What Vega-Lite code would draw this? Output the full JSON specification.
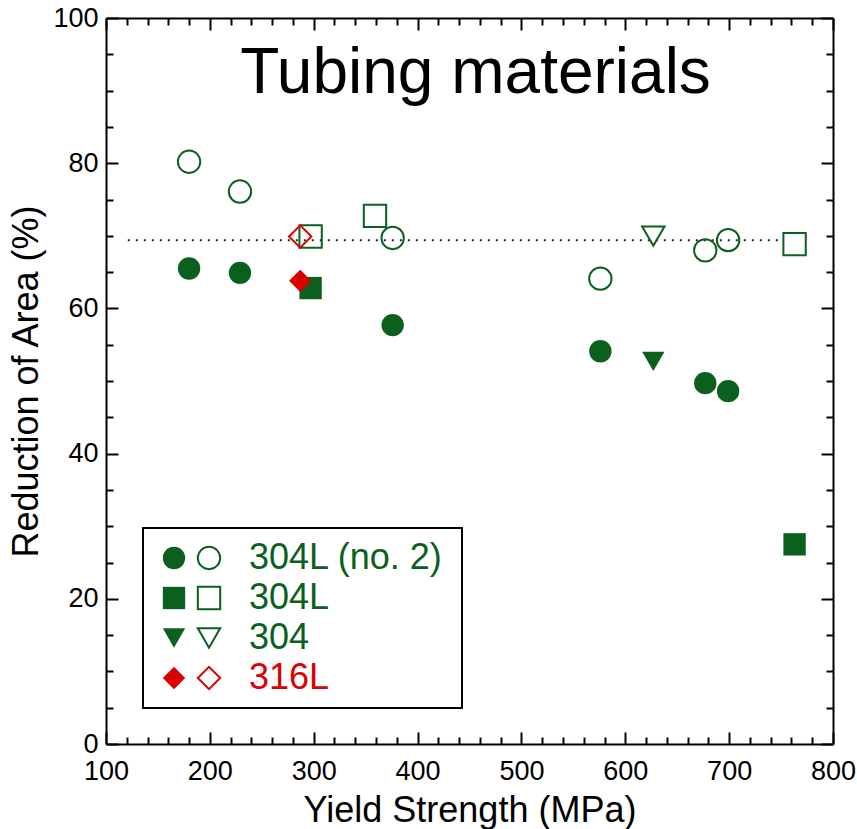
{
  "$schema": "https://vega.github.io/schema/vega-lite/v6.json",
  "width": 727,
  "height": 726,
  "autosize": {"type": "none"},
  "padding": {"left": 106, "top": 18, "right": 24, "bottom": 85},
  "background": "white",
  "config": {
    "view": {"stroke": null},
    "font": "Liberation Sans",
    "legend": {"strokeWidth": 2},
    "axis": {
      "grid": false,
      "domainColor": "black",
      "domainWidth": 2,
      "tickColor": "black",
      "tickWidth": 2,
      "labelColor": "black",
      "labelFont": "Liberation Sans",
      "labelFontSize": 27,
      "labelFlush": false,
      "labelOverlap": false,
      "labelBound": false,
      "titleColor": "black",
      "titleFont": "Liberation Sans",
      "titleFontWeight": "normal",
      "titleFontSize": 36
    }
  },
  "title": {
    "text": "Tubing materials",
    "font": "Liberation Sans",
    "fontSize": 64,
    "fontWeight": "normal",
    "color": "black",
    "anchor": "middle",
    "frame": "group",
    "orient": "top",
    "baseline": "alphabetic",
    "offset": -78,
    "dy": 75,
    "dx": 6
  },
  "datasets": {
    "points": [
      {"ys": 180, "ra": 65.5, "material": "304L (no. 2)", "kind": "filled"},
      {"ys": 229, "ra": 64.9, "material": "304L (no. 2)", "kind": "filled"},
      {"ys": 376, "ra": 57.7, "material": "304L (no. 2)", "kind": "filled"},
      {"ys": 576, "ra": 54.1, "material": "304L (no. 2)", "kind": "filled"},
      {"ys": 677, "ra": 49.7, "material": "304L (no. 2)", "kind": "filled"},
      {"ys": 699, "ra": 48.6, "material": "304L (no. 2)", "kind": "filled"},
      {"ys": 297, "ra": 62.8, "material": "304L", "kind": "filled"},
      {"ys": 763, "ra": 27.5, "material": "304L", "kind": "filled"},
      {"ys": 627, "ra": 52.7, "material": "304", "kind": "filled"},
      {"ys": 287, "ra": 63.8, "material": "316L", "kind": "filled"},
      {"ys": 180, "ra": 80.2, "material": "304L (no. 2)", "kind": "open"},
      {"ys": 229, "ra": 76.1, "material": "304L (no. 2)", "kind": "open"},
      {"ys": 376, "ra": 69.7, "material": "304L (no. 2)", "kind": "open"},
      {"ys": 576, "ra": 64.1, "material": "304L (no. 2)", "kind": "open"},
      {"ys": 677, "ra": 68.0, "material": "304L (no. 2)", "kind": "open"},
      {"ys": 699, "ra": 69.4, "material": "304L (no. 2)", "kind": "open"},
      {"ys": 297, "ra": 69.9, "material": "304L", "kind": "open"},
      {"ys": 359, "ra": 72.75, "material": "304L", "kind": "open"},
      {"ys": 763, "ra": 68.85, "material": "304L", "kind": "open"},
      {"ys": 627, "ra": 69.95, "material": "304", "kind": "open"},
      {"ys": 287, "ra": 69.9, "material": "316L", "kind": "open"}
    ],
    "ref": [{"xstart": 121, "xend": 748, "ra": 69.4}]
  },
  "layer": [
    {
      "data": {"name": "ref"},
      "mark": {"type": "rule", "strokeDash": [2, 6], "strokeWidth": 2, "color": "#222222"},
      "encoding": {
        "x": {
          "field": "xstart", "type": "quantitative",
          "scale": {"domain": [100, 800], "nice": false, "zero": false},
          "axis": {
            "orient": "top", "title": null, "labels": false,
            "values": [100, 200, 300, 400, 500, 600, 700, 800],
            "tickSize": -12
          }
        },
        "x2": {"field": "xend"},
        "y": {
          "field": "ra", "type": "quantitative",
          "scale": {"domain": [0, 100], "nice": false, "zero": false},
          "axis": {
            "orient": "right", "title": null, "labels": false,
            "values": [0, 20, 40, 60, 80, 100],
            "tickSize": -12
          }
        }
      }
    },
    {
      "data": {"name": "points"},
      "mark": {"type": "point", "opacity": 0, "size": 10},
      "encoding": {
        "x": {
          "field": "ys", "type": "quantitative",
          "scale": {"domain": [100, 800], "nice": false, "zero": false},
          "axis": {
            "orient": "top", "title": null, "labels": false, "domain": false,
            "values": [120,140,160,180,220,240,260,280,320,340,360,380,420,440,460,480,520,540,560,580,620,640,660,680,720,740,760,780],
            "tickSize": -7
          }
        },
        "y": {
          "field": "ra", "type": "quantitative",
          "scale": {"domain": [0, 100], "nice": false, "zero": false},
          "axis": {
            "orient": "right", "title": null, "labels": false, "domain": false,
            "values": [5,10,15,25,30,35,45,50,55,65,70,75,85,90,95],
            "tickSize": -7
          }
        }
      }
    },
    {
      "data": {"name": "points"},
      "transform": [{"filter": "datum.kind === 'open'"}],
      "mark": {"type": "point", "filled": false, "strokeWidth": 2, "size": 500, "opacity": 1},
      "encoding": {
        "x": {
          "field": "ys", "type": "quantitative",
          "scale": {"domain": [100, 800], "nice": false, "zero": false},
          "axis": {
            "orient": "bottom", "title": "Yield Strength (MPa)",
            "values": [100, 200, 300, 400, 500, 600, 700, 800],
            "tickSize": -12,
            "labelPadding": 26,
            "titlePadding": 9
          }
        },
        "y": {
          "field": "ra", "type": "quantitative",
          "scale": {"domain": [0, 100], "nice": false, "zero": false},
          "axis": {
            "orient": "left", "title": "Reduction of Area (%)",
            "values": [0, 20, 40, 60, 80, 100],
            "tickSize": -12,
            "labelPadding": 20,
            "titlePadding": 7
          }
        },
        "shape": {
          "field": "material", "type": "nominal",
          "scale": {"domain": ["304L (no. 2)", "304L", "304", "316L"], "range": ["circle", "square", "triangle-down", "diamond"]},
          "legend": {
            "orient": "none", "legendX": 37, "legendY": 510, "title": null,
            "symbolSize": 500, "symbolStrokeWidth": 2, "symbolOffset": 36,
            "labelFont": "Liberation Sans", "labelFontSize": 36, "labelOffset": 28, "labelOpacity": 0, "labelLimit": 400,
            "rowPadding": 4, "padding": 12, "strokeColor": "black"
          }
        },
        "stroke": {
          "field": "material", "type": "nominal",
          "scale": {"domain": ["304L (no. 2)", "304L", "304", "316L"], "range": ["#0b601e", "#0b601e", "#0b601e", "#dd0000"]},
          "legend": {
            "orient": "none", "legendX": 37, "legendY": 510, "title": null,
            "symbolSize": 500, "symbolStrokeWidth": 2, "symbolOffset": 36,
            "labelFont": "Liberation Sans", "labelFontSize": 36, "labelOffset": 28, "labelOpacity": 0, "labelLimit": 400,
            "rowPadding": 4, "padding": 12, "strokeColor": "black"
          }
        }
      }
    },
    {
      "data": {"name": "points"},
      "transform": [{"filter": "datum.kind === 'filled' && datum.material !== '316L'"}],
      "mark": {"type": "point", "filled": true, "strokeWidth": 0, "size": 500, "opacity": 1, "color": "#0b601e"},
      "encoding": {
        "x": {
          "field": "ys", "type": "quantitative",
          "scale": {"domain": [100, 800], "nice": false, "zero": false},
          "axis": {
            "orient": "bottom", "title": null, "labels": false, "domain": false,
            "values": [120,140,160,180,220,240,260,280,320,340,360,380,420,440,460,480,520,540,560,580,620,640,660,680,720,740,760,780],
            "tickSize": -7
          }
        },
        "y": {
          "field": "ra", "type": "quantitative",
          "scale": {"domain": [0, 100], "nice": false, "zero": false},
          "axis": {
            "orient": "left", "title": null, "labels": false, "domain": false,
            "values": [5,10,15,25,30,35,45,50,55,65,70,75,85,90,95],
            "tickSize": -7
          }
        },
        "shape": {
          "field": "material", "type": "nominal",
          "scale": {"domain": ["304L (no. 2)", "304L", "304"], "range": ["circle", "square", "triangle-down"]},
          "legend": {
            "orient": "none", "legendX": 38, "legendY": 510, "title": null,
            "symbolSize": 500, "symbolStrokeWidth": 0, "symbolFillColor": "#0b601e",
            "labelFont": "Liberation Sans", "labelFontSize": 36, "labelOffset": 57, "labelLimit": 400,
            "labelColor": "#0b601e",
            "rowPadding": 4, "padding": 12
          }
        }
      }
    },
    {
      "data": {"name": "points"},
      "transform": [{"filter": "datum.kind === 'filled' && datum.material === '316L'"}],
      "mark": {"type": "point", "filled": true, "strokeWidth": 0, "size": 500, "opacity": 1, "color": "#dd0000"},
      "encoding": {
        "x": {"field": "ys", "type": "quantitative", "scale": {"domain": [100, 800], "nice": false, "zero": false}, "axis": null},
        "y": {"field": "ra", "type": "quantitative", "scale": {"domain": [0, 100], "nice": false, "zero": false}, "axis": null},
        "shape": {
          "field": "material", "type": "nominal",
          "scale": {"domain": ["316L"], "range": ["diamond"]},
          "legend": {
            "orient": "none", "legendX": 38, "legendY": 630, "title": null,
            "symbolSize": 500, "symbolStrokeWidth": 0, "symbolFillColor": "#dd0000",
            "labelFont": "Liberation Sans", "labelFontSize": 36, "labelOffset": 57, "labelLimit": 400,
            "labelColor": "#dd0000",
            "rowPadding": 4, "padding": 12
          }
        }
      }
    }
  ],
  "resolve": {
    "scale": {"shape": "independent", "stroke": "independent"},
    "axis": {"x": "independent", "y": "independent"}
  }
}
